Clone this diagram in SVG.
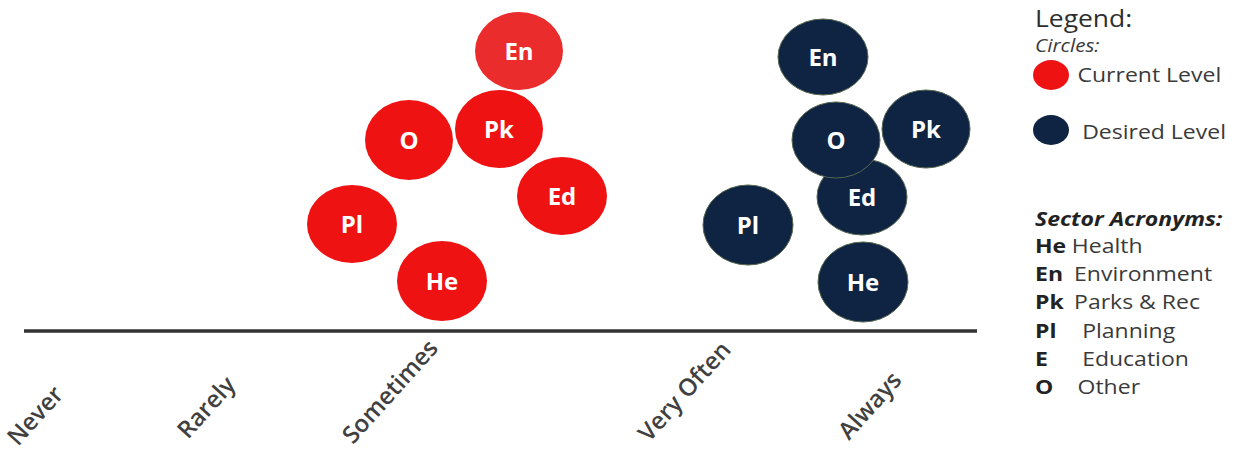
<svg xmlns="http://www.w3.org/2000/svg" width="1237" height="452" viewBox="0 0 1237 452">
<style>
.red{fill:#ee1212}
.navy{fill:#0e2442;stroke:#55654f;stroke-width:1}
.cl{font-family:"Open Sans","Liberation Sans",sans-serif;font-weight:700;font-size:24px;fill:#ffffff;text-anchor:middle}
.ax{font-family:"Open Sans","Liberation Sans",sans-serif;font-weight:600;font-size:24px;fill:#404040}
.lg{font-family:"Open Sans","Liberation Sans",sans-serif;fill:#3a3a3a}
.ab{font-weight:700;fill:#222}
</style>
<rect width="1237" height="452" fill="#ffffff"/>
<g id="connectors">
<line x1="24" y1="331" x2="977" y2="331" stroke="#333333" stroke-width="3.5"/>
</g>
<g id="axis-labels">
<text class="ax" transform="translate(18,447) rotate(-48)">Never</text>
<text class="ax" transform="translate(188,440) rotate(-48)">Rarely</text>
<text class="ax" transform="translate(353,445) rotate(-48)">Sometimes</text>
<text class="ax" transform="translate(649,443) rotate(-48)">Very Often</text>
<text class="ax" transform="translate(849,441) rotate(-48)">Always</text>
</g>
<g id="current-En"><ellipse cx="519" cy="51" rx="44" ry="39" fill="#ea2c2c"/><text class="cl" x="519" y="60">En</text></g>
<g id="current-Pk"><ellipse class="red" cx="499" cy="129" rx="44" ry="39"/><text class="cl" x="499" y="138">Pk</text></g>
<g id="current-O"><ellipse class="red" cx="409" cy="140" rx="44" ry="40"/><text class="cl" x="409" y="149">O</text></g>
<g id="current-Ed"><ellipse class="red" cx="562" cy="196" rx="45" ry="39"/><text class="cl" x="562" y="205">Ed</text></g>
<g id="current-Pl"><ellipse class="red" cx="352" cy="224" rx="45" ry="39"/><text class="cl" x="352" y="233">Pl</text></g>
<g id="current-He"><ellipse class="red" cx="442" cy="281" rx="45" ry="40"/><text class="cl" x="442" y="290">He</text></g>
<g id="desired-En"><ellipse class="navy" cx="823" cy="57" rx="45" ry="38"/><text class="cl" x="823" y="66">En</text></g>
<g id="desired-Pk"><ellipse class="navy" cx="926" cy="129" rx="44" ry="39"/><text class="cl" x="926" y="138">Pk</text></g>
<g id="desired-Ed"><ellipse class="navy" cx="862" cy="197" rx="45" ry="38"/><text class="cl" x="862" y="206">Ed</text></g>
<g id="desired-O"><ellipse class="navy" cx="836" cy="140" rx="44" ry="38"/><text class="cl" x="836" y="149">O</text></g>
<g id="desired-Pl"><ellipse class="navy" cx="748" cy="225" rx="45" ry="40"/><text class="cl" x="748" y="234">Pl</text></g>
<g id="desired-He"><ellipse class="navy" cx="863" cy="282" rx="45" ry="40"/><text class="cl" x="863" y="291">He</text></g>
<g id="legend">
<ellipse cx="1051" cy="75" rx="18" ry="15" fill="#ee1212"/>
<ellipse cx="1051" cy="130" rx="18" ry="15" fill="#0e2442"/>
<g transform="matrix(1.15,0,0,1,1035,0)" class="lg">
<text x="0" y="27" font-size="23" fill="#2e2e2e">Legend:</text>
<text x="0" y="52" font-size="18" font-style="italic">Circles:</text>
<text x="37" y="82" font-size="20">Current Level</text>
<text x="41" y="139" font-size="20">Desired Level</text>
<text x="0" y="226" font-size="20" font-weight="700" font-style="italic" fill="#222">Sector Acronyms:</text>
<g font-size="20">
<text x="0" y="253" class="ab">He</text><text x="32" y="253">Health</text>
<text x="0" y="281" class="ab">En</text><text x="34" y="281">Environment</text>
<text x="0" y="309" class="ab">Pk</text><text x="34" y="309">Parks &amp; Rec</text>
<text x="0" y="338" class="ab">Pl</text><text x="41" y="338">Planning</text>
<text x="0" y="366" class="ab">E</text><text x="41" y="366">Education</text>
<text x="0" y="394" class="ab">O</text><text x="37" y="394">Other</text>
</g>
</g>
</g>
</svg>
